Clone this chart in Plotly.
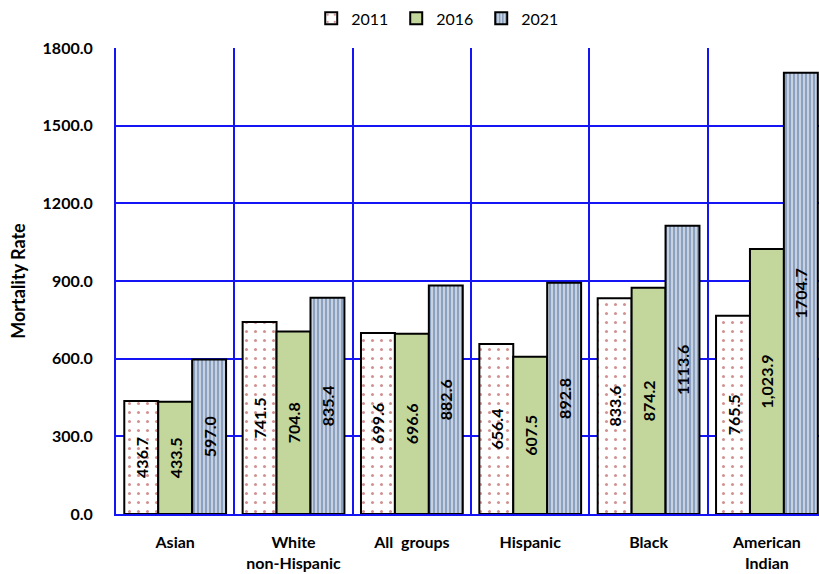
import plotly.graph_objects as go

categories = ["Asian", "White<br>non-Hispanic", "All  groups", "Hispanic", "Black", "American<br>Indian"]
years = ["2011", "2016", "2021"]
values_2011 = [436.7, 741.5, 699.6, 656.4, 833.6, 765.5]
values_2016 = [433.5, 704.8, 696.6, 607.5, 874.2, 1023.9]
values_2021 = [597.0, 835.4, 882.6, 892.8, 1113.6, 1704.7]
labels_2011 = ["436.7", "741.5", "699.6", "656.4", "833.6", "765.5"]
labels_2016 = ["433.5", "704.8", "696.6", "607.5", "874.2", "1,023.9"]
labels_2021 = ["597.0", "835.4", "882.6", "892.8", "1113.6", "1704.7"]
y_ticks = [0, 300, 600, 900, 1200, 1500, 1800]

FONT = "Lato"
BLUE = "#1414F5"
fig = go.Figure()

common = dict(
    textposition="inside",
    insidetextanchor="middle",
    textangle=-90,
    textfont=dict(family=FONT, size=16, color="black", weight="bold"),
    constraintext="none",
)

fig.add_trace(go.Bar(
    name=years[0], x=categories, y=values_2011, text=labels_2011,
    marker=dict(color="white", line=dict(color="black", width=2),
                pattern=dict(shape=".", fgcolor="#A32424", bgcolor="white", size=9, solidity=0.09)),
    **common))
fig.add_trace(go.Bar(
    name=years[1], x=categories, y=values_2016, text=labels_2016,
    marker=dict(color="#C3D69B", line=dict(color="black", width=2)),
    **common))
fig.add_trace(go.Bar(
    name=years[2], x=categories, y=values_2021, text=labels_2021,
    marker=dict(color="white", line=dict(color="black", width=2),
                pattern=dict(shape="|", fgcolor="#224C84", bgcolor="#F4F7FB", size=4, solidity=0.72)),
    **common))

fig.update_layout(
    width=819, height=574,
    margin=dict(l=116, r=0, t=48, b=60, autoexpand=False),
    paper_bgcolor="white", plot_bgcolor="white",
    barmode="group", bargap=0.14, bargroupgap=0,
    font=dict(family=FONT, color="black"),
    showlegend=True,
    legend=dict(orientation="h", xref="container", yref="container",
                x=0.38, xanchor="left", y=0.968, yanchor="middle",
                font=dict(family=FONT, size=16, color="black"),
                itemwidth=30, traceorder="normal", entrywidth=40,
                tracegroupgap=0),
    xaxis=dict(
        type="category",
        range=[-0.5, 5.44],
        tickson="boundaries",
        showgrid=True, gridcolor=BLUE, gridwidth=2,
        showline=True, linecolor=BLUE, linewidth=2,
        ticks="", ticklen=0,
        ticklabelstandoff=13,
        automargin=False,
        tickfont=dict(family=FONT, size=16, color="black", weight="bold"),
    ),
    yaxis=dict(
        range=[0, 1800],
        tickvals=y_ticks, tickformat=".1f",
        showgrid=True, gridcolor=BLUE, gridwidth=2,
        showline=True, linecolor=BLUE, linewidth=2,
        zeroline=False,
        ticks="",
        ticklabelstandoff=18,
        automargin=False,
        tickfont=dict(family=FONT, size=16, color="black", weight="bold"),
        title=dict(text="Mortality Rate", font=dict(family=FONT, size=18, color="black", weight="bold"),
                   standoff=12),
    ),
)

fig.write_html("out.html", config={"displayModeBar": False},
               post_script="document.body.style.margin='0px';")
